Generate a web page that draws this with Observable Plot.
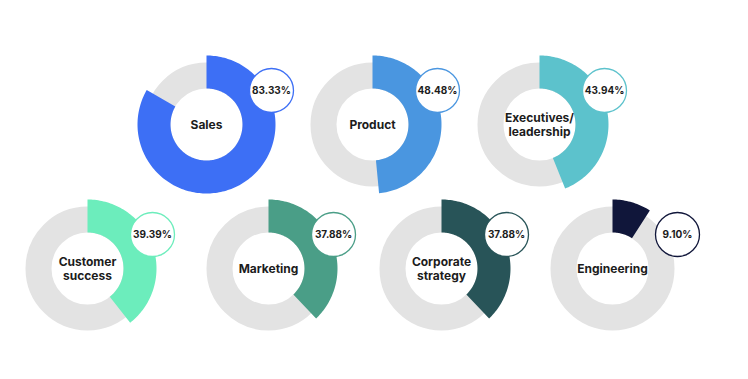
<!DOCTYPE html>
<html>
<head>
<meta charset="utf-8">
<script src="https://cdn.jsdelivr.net/npm/d3@7"></script>
<script src="https://cdn.jsdelivr.net/npm/@observablehq/plot@0.6"></script>
<style>
  html, body { margin: 0; padding: 0; background: #ffffff; }
  #chart svg { display: block; }
</style>
</head>
<body>
<div id="chart"></div>
<script>
// ---- data ----
const categories = ["Sales", "Product", "Executives/\nleadership", "Customer\nsuccess", "Marketing", "Corporate\nstrategy", "Engineering"];
const values = [83.33, 48.48, 43.94, 39.39, 37.88, 37.88, 9.10];
const valueLabels = ["83.33%", "48.48%", "43.94%", "39.39%", "37.88%", "37.88%", "9.10%"];
const colors = ["#3D6FF5", "#4A96E0", "#5CC2CC", "#6CEDBC", "#4A9E87", "#285458", "#10163A"];

// ---- layout (code, not data) ----
const W = 748, H = 379;
const topRow = {y: 124, xs: [206, 372, 539]};
const bottomRow = {y: 268, xs: [87, 268, 441, 612]};
function center(i) {
  return i < 3 ? [topRow.xs[i], topRow.y] : [bottomRow.xs[i - 3], bottomRow.y];
}
const rInner = 36, rGreyOuter = 62, rArcOuter = 69;
const bubbleDx = 65, bubbleDy = -34, bubbleR = 22;

const rows = categories.map((name, i) => {
  const [cx, cy] = center(i);
  return {name, value: values[i], label: valueLabels[i], color: colors[i], cx, cy};
});

// arc polygons computed from values
const arcPts = [];
for (const d of rows) {
  const theta = d.value / 100 * 2 * Math.PI;
  const n = Math.max(2, Math.ceil(d.value / 100 * 240));
  for (let k = 0; k <= n; k++) {
    const t = theta * k / n;
    arcPts.push({name: d.name, color: d.color, x: d.cx + rArcOuter * Math.sin(t), y: d.cy - rArcOuter * Math.cos(t)});
  }
  for (let k = n; k >= 0; k--) {
    const t = theta * k / n;
    arcPts.push({name: d.name, color: d.color, x: d.cx + rInner * Math.sin(t), y: d.cy - rInner * Math.cos(t)});
  }
}

const chart = Plot.plot({
  width: W,
  height: H,
  margin: 0,
  style: {background: "#ffffff", fontFamily: "Inter, 'Open Sans', sans-serif"},
  x: {domain: [0, W], axis: null},
  y: {domain: [0, H], range: [0, H], axis: null},
  color: {type: "identity"},
  marks: [
    Plot.dot(rows, {x: "cx", y: "cy", r: (rInner + rGreyOuter) / 2, stroke: "#E3E3E3", strokeWidth: rGreyOuter - rInner, fill: "none"}),
    Plot.line(arcPts, {x: "x", y: "y", z: "name", fill: "color", stroke: "none", curve: "linear"}),
    Plot.dot(rows, {x: d => d.cx + bubbleDx, y: d => d.cy + bubbleDy, r: bubbleR, fill: "#ffffff", stroke: "color", strokeWidth: 1.3}),
    Plot.text(rows, {x: d => d.cx + bubbleDx, y: d => d.cy + bubbleDy, text: "label", fontSize: 10, fontWeight: 700, fill: "#1c1c1c", fontFamily: "Inter"}),
    Plot.text(rows, {x: "cx", y: "cy", text: "name", fontSize: 12, fontWeight: 700, lineHeight: 1.2, fill: "#1c1c1c", fontFamily: "Inter"})
  ]
});
document.getElementById("chart").appendChild(chart);
</script>
</body>
</html>
